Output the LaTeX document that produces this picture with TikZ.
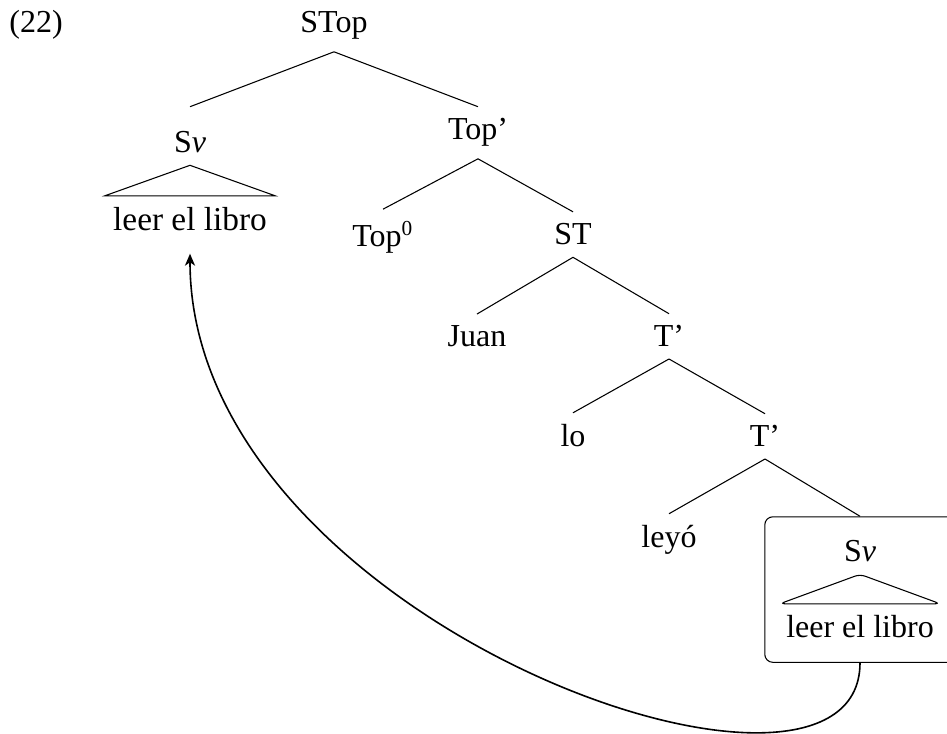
\documentclass[tikz,border=0pt]{standalone}
\usepackage{fontspec}
\setmainfont{Liberation Serif}
\usetikzlibrary{arrows.meta,fit}
\begin{document}
\begin{tikzpicture}[x=0.375pt,y=-0.375pt,
  lab/.style={anchor=base,inner xsep=2.25pt,inner ysep=4.3pt,font=\fontsize{12}{14}\selectfont},
  edge/.style={line width=0.4pt},
  roof/.style={line width=0.4pt},
  movebox/.style={draw,rounded corners=3pt,inner xsep=5.6pt,inner ysep=4.5pt,line width=0.4pt},
  movearrow/.style={line width=0.6pt,-{Stealth[length=4.5pt,width=3.8pt,inset=1.3pt]},shorten >=3.9pt}]
\useasboundingbox (0,0) rectangle (947,734);
% labels
\node[lab] (ex)    at (36,33)   {(22)};
\node[lab] (stop)  at (334,33)  {STop};
\node[lab] (sv)    at (190,153) {S\textit{v}};
\node[lab,font=\fontsize{12.5}{14}\selectfont,inner xsep=3pt] (leer) at (190,231) {leer el libro};
\node[lab] (topp)  at (478,140) {Top'};
\node[lab] (top0)  at (383,247) {Top\textsuperscript{0}};
\node[lab] (st)    at (573,245) {ST};
\node[lab] (juan)  at (477,347) {Juan};
\node[lab] (tp1)   at (669,347) {T'};
\node[lab] (lo)    at (573,447) {lo};
\node[lab] (tp2)   at (765,447) {T'};
\node[lab] (leyo)  at (669,548) {leyó};
\node[lab] (sv2)   at (860,562) {S\textit{v}};
\node[lab] (leer2) at (860,638) {leer el libro};
\node[movebox,fit=(sv2)(leer2)] (box) {};
% edges
\draw[edge] (stop.south) -- (sv.north |- topp.north);
\draw[edge] (stop.south) -- (topp.north);
\draw[roof] (sv.south) -- (leer.north west) -- (leer.north east) -- cycle;
\draw[edge] (topp.south) -- (top0.north);
\draw[edge] (topp.south) -- (st.north);
\draw[edge] (st.south) -- (juan.north);
\draw[edge] (st.south) -- (tp1.north);
\draw[edge] (tp1.south) -- (lo.north);
\draw[edge] (tp1.south) -- (tp2.north);
\draw[edge] (tp2.south) -- (leyo.north);
\draw[edge] (tp2.south) -- (box.north);
\draw[roof,rounded corners=2pt] (sv2.south) -- (leer2.north west) -- (leer2.north east) -- cycle;
% movement arrow
\draw[movearrow] (box.south) .. controls +(0,194) and +(0,380) .. (leer.south);
\end{tikzpicture}
\end{document}
